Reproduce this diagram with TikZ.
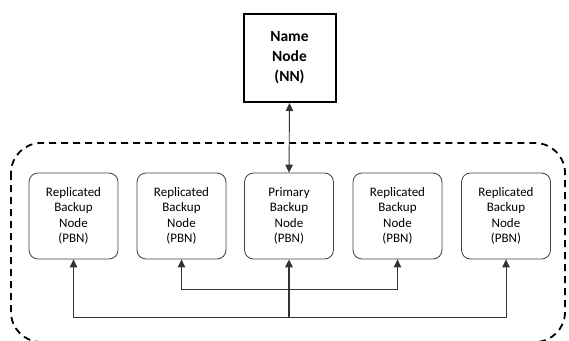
\documentclass[tikz,border=0pt]{standalone}
\usepackage{fontspec}
\setmainfont{Carlito}
\usetikzlibrary{arrows.meta}
\begin{document}
\begin{tikzpicture}[x=1bp,y=-1bp,
  tip/.style={-{Triangle[length=8bp,width=7.5bp]}},
  bothtip/.style={{Triangle[length=8bp,width=7.5bp]}-{Triangle[length=8bp,width=7.5bp]}},
  backup/.style={draw=black!75, line width=0.8bp, rounded corners=9bp,
    minimum width=89bp, minimum height=86bp, align=center,
    font=\fontsize{13bp}{15.5bp}\selectfont, inner sep=0pt},
  namebox/.style={draw=black, line width=2bp, minimum width=92bp, minimum height=88bp,
    align=center, font=\fontsize{15.5bp}{20bp}\selectfont\bfseries, inner sep=0pt},
  link/.style={draw=black!80, line width=0.9bp}]
\useasboundingbox (0,0) rectangle (569,340);

% cluster outline, its lower edge just below the page
\begin{scope}
  \clip (0,0) rectangle (569,340);
  \draw[line width=1.8bp, dash pattern=on 7bp off 5bp, rounded corners=30bp]
    (11,143) rectangle (565,342);
\end{scope}

\node[namebox] (nn) at (289.5,58) {Name\\Node\\(NN)};

\node[backup] (r1) at (73.5,216) {Replicated\\Backup\\Node\\(PBN)};
\node[backup] (r2) at (181.5,216) {Replicated\\Backup\\Node\\(PBN)};
\node[backup] (pbn) at (289,216) {Primary\\Backup\\Node\\(PBN)};
\node[backup] (r4) at (397.5,216) {Replicated\\Backup\\Node\\(PBN)};
\node[backup] (r5) at (506,216) {Replicated\\Backup\\Node\\(PBN)};

\coordinate (outer) at (289,317);
\coordinate (inner) at (289,289);

\draw[link, bothtip] (nn.south) -- (pbn.north);
\draw[link, tip, line width=1.6bp] (outer) -- (pbn.south);
\draw[link, tip] (outer) -| (r1.south);
\draw[link, tip] (outer) -| (r5.south);
\draw[link, tip] (inner) -| (r2.south);
\draw[link, tip] (inner) -| (r4.south);
\end{tikzpicture}
\end{document}
